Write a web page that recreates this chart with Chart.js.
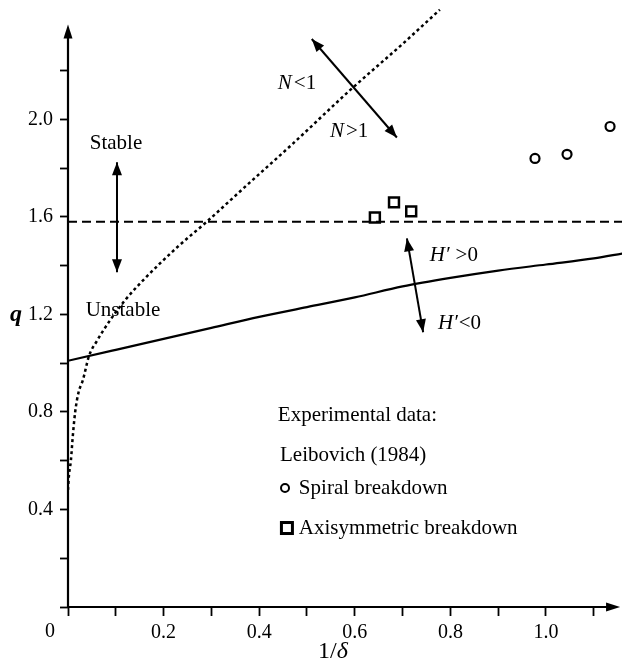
<!DOCTYPE html>
<html>
<head>
<meta charset="utf-8">
<script src="https://cdn.jsdelivr.net/npm/chart.js@4.4.0/dist/chart.umd.min.js"></script>
<style>
  html, body { margin: 0; padding: 0; background: #fff; }
  #wrap { width: 622px; height: 670px; }
</style>
</head>
<body>
<div id="wrap"><canvas id="chart" width="622" height="670"></canvas></div>
<script>
// tick values and labels
const xTickValues = [0, 0.1, 0.2, 0.3, 0.4, 0.5, 0.6, 0.7, 0.8, 0.9, 1.0, 1.1];
const xTickLabels = ["", "", "0.2", "", "0.4", "", "0.6", "", "0.8", "", "1.0", ""];
const yTickValues = [0, 0.2, 0.4, 0.6, 0.8, 1.0, 1.2, 1.4, 1.6, 1.8, 2.0, 2.2];
const yTickLabels = ["", "", "0.4", "", "0.8", "", "1.2", "", "1.6", "", "2.0", ""];

// H' = 0 boundary (solid)
const solidX = [0, 0.1, 0.2, 0.3, 0.4, 0.5, 0.6, 0.7, 0.8, 0.9, 1.0, 1.1, 1.16];
const solidQ = [1.01, 1.055, 1.10, 1.145, 1.19, 1.23, 1.27, 1.315, 1.35, 1.38, 1.405, 1.43, 1.45];

// stability limit (dashed)
const dashedX = [0, 1.16];
const dashedQ = [1.58, 1.58];

// N = 1 curve (dotted)
const dottedX = [0, 0.002, 0.006, 0.01, 0.015, 0.022, 0.031, 0.044, 0.06, 0.088, 0.12, 0.157, 0.228, 0.29, 0.374, 0.47, 0.59, 0.7, 0.778];
const dottedQ = [0.48, 0.54, 0.60, 0.70, 0.80, 0.88, 0.93, 1.03, 1.09, 1.176, 1.26, 1.34, 1.475, 1.58, 1.73, 1.90, 2.12, 2.31, 2.45];

// Leibovich (1984)
const spiralX = [0.977, 1.044, 1.134];
const spiralQ = [1.84, 1.857, 1.971];
const axisymX = [0.642, 0.682, 0.718];
const axisymQ = [1.598, 1.66, 1.623];

// double arrows: [x1, q1, x2, q2]
const stableArrow = [0.1025, 1.824, 0.1025, 1.373];
const nArrow = [0.51, 2.33, 0.688, 1.926];
const hArrow = [0.709, 1.512, 0.743, 1.127];

const SERIF = '"Liberation Serif", "Times New Roman", serif';

const pts = (xs, ys) => xs.map((x, i) => ({ x: x, y: ys[i] }));
const seg = a => [{ x: a[0], y: a[1] }, { x: a[2], y: a[3] }];

function head(ctx, fx, fy, tx, ty, len, half) {
  const ang = Math.atan2(ty - fy, tx - fx);
  ctx.save();
  ctx.translate(tx, ty);
  ctx.rotate(ang);
  ctx.beginPath();
  ctx.moveTo(0, 0);
  ctx.lineTo(-len, -half);
  ctx.lineTo(-len, half);
  ctx.closePath();
  ctx.fill();
  ctx.restore();
}

function rich(ctx, parts, x, y) {
  let cx = x;
  parts.forEach(p => {
    ctx.font = p[1];
    ctx.fillText(p[0], cx, y);
    cx += ctx.measureText(p[0]).width + (p[2] || 0);
  });
}

const overlay = {
  id: "overlay",
  afterDatasetsDraw(chart) {
    const ctx = chart.ctx;
    const xs = chart.scales.x, ys = chart.scales.y;
    const X = v => xs.getPixelForValue(v);
    const Y = v => ys.getPixelForValue(v);
    ctx.save();
    ctx.fillStyle = "#000";
    ctx.strokeStyle = "#000";

    // axes with arrowheads
    ctx.lineWidth = 2.2;
    ctx.beginPath();
    ctx.moveTo(X(0), Y(0));
    ctx.lineTo(X(0), Y(2.36));
    ctx.moveTo(X(0), Y(0));
    ctx.lineTo(X(1.14), Y(0));
    ctx.stroke();
    head(ctx, X(0), Y(0), X(0), Y(2.39), 14, 4.5);
    head(ctx, X(0), Y(0), X(1.155), Y(0), 14, 4.5);

    // heads on the double arrows
    chart.data.datasets.forEach((ds, i) => {
      if (!ds.arrow) return;
      const m = chart.getDatasetMeta(i).data;
      head(ctx, m[0].x, m[0].y, m[1].x, m[1].y, 13, 5);
      head(ctx, m[1].x, m[1].y, m[0].x, m[0].y, 13, 5);
    });

    const up = "21px " + SERIF;
    const it = "italic 21px " + SERIF;
    ctx.textBaseline = "middle";

    ctx.textAlign = "center";
    ctx.font = up;
    ctx.fillText("Stable", X(0.1004), Y(1.902));
    ctx.fillText("Unstable", X(0.115), Y(1.217));

    ctx.textAlign = "left";
    rich(ctx, [["N", it, 2], ["<1", up]], X(0.439), Y(2.148));
    rich(ctx, [["N", it, 2], [">1", up]], X(0.548), Y(1.951));
    rich(ctx, [["H\u2032", it, 6], [">0", up]], X(0.757), Y(1.443));
    rich(ctx, [["H\u2032", it, 1], ["<0", up]], X(0.774), Y(1.164));

    ctx.font = up;
    ctx.fillText("Experimental data:", X(0.439), Y(0.787));
    ctx.fillText("Leibovich (1984)", X(0.4435), Y(0.623));
    ctx.fillText("Spiral breakdown", X(0.483), Y(0.488));
    ctx.fillText("Axisymmetric breakdown", X(0.483), Y(0.324));

    // legend markers
    ctx.lineWidth = 2;
    ctx.beginPath();
    ctx.arc(X(0.454), Y(0.488), 4, 0, Math.PI * 2);
    ctx.stroke();
    ctx.lineWidth = 3;
    ctx.strokeRect(X(0.458) - 5.5, Y(0.324) - 5.5, 11, 11);

    // axis titles and origin label
    ctx.textAlign = "center";
    ctx.font = "20px " + SERIF;
    ctx.fillText("0", X(0) - 18, 632);
    ctx.font = "bold italic 24px " + SERIF;
    ctx.fillText("q", 16, Y(1.2));
    ctx.textAlign = "left";
    rich(ctx, [["1/", "24px " + SERIF], ["\u03b4", "italic 24px " + SERIF]], 318, 652);

    ctx.restore();
  }
};

const lineBase = { showLine: true, pointRadius: 0, borderColor: "#000", fill: false };

new Chart(document.getElementById("chart"), {
  type: "scatter",
  data: {
    datasets: [
      Object.assign({ data: pts(solidX, solidQ), borderWidth: 2.2, cubicInterpolationMode: "monotone" }, lineBase),
      Object.assign({ data: pts(dashedX, dashedQ), borderWidth: 2, borderDash: [9, 5] }, lineBase),
      Object.assign({ data: pts(dottedX, dottedQ), borderWidth: 2.5, borderDash: [3, 3], cubicInterpolationMode: "monotone" }, lineBase),
      Object.assign({ data: seg(stableArrow), borderWidth: 2, arrow: true }, lineBase),
      Object.assign({ data: seg(nArrow), borderWidth: 2, arrow: true }, lineBase),
      Object.assign({ data: seg(hArrow), borderWidth: 2, arrow: true }, lineBase),
      { data: pts(spiralX, spiralQ), pointStyle: "circle", pointRadius: 4.5, borderWidth: 2.2,
        borderColor: "#000", backgroundColor: "#fff" },
      { data: pts(axisymX, axisymQ), pointStyle: "rect", pointRadius: 7, borderWidth: 2.5,
        borderColor: "#000", backgroundColor: "#fff" }
    ]
  },
  options: {
    responsive: false,
    animation: false,
    layout: { padding: 0, autoPadding: false },
    plugins: { legend: { display: false }, tooltip: { enabled: false } },
    scales: {
      x: {
        type: "linear", min: 0, max: 1.159,
        afterFit: s => { s.height = 63; s.paddingLeft = 0; s.paddingRight = 0; },
        afterBuildTicks: s => { s.ticks = xTickValues.map(v => ({ value: v })); },
        ticks: {
          callback: (v, i) => xTickLabels[i],
          color: "#000", font: { family: SERIF, size: 20 }, padding: 5,
          autoSkip: false, maxRotation: 0
        },
        grid: { drawOnChartArea: false, tickLength: 9, tickWidth: 1.8, tickColor: "#000" },
        border: { display: false }
      },
      y: {
        type: "linear", min: 0, max: 2.49,
        afterFit: s => { s.width = 68; s.paddingTop = 0; s.paddingBottom = 0; },
        afterBuildTicks: s => { s.ticks = yTickValues.map(v => ({ value: v })); },
        ticks: {
          callback: (v, i) => yTickLabels[i],
          color: "#000", font: { family: SERIF, size: 20 }, padding: 7,
          autoSkip: false
        },
        grid: { drawOnChartArea: false, tickLength: 8, tickWidth: 1.8, tickColor: "#000" },
        border: { display: false }
      }
    }
  },
  plugins: [overlay]
});
</script>
</body>
</html>
